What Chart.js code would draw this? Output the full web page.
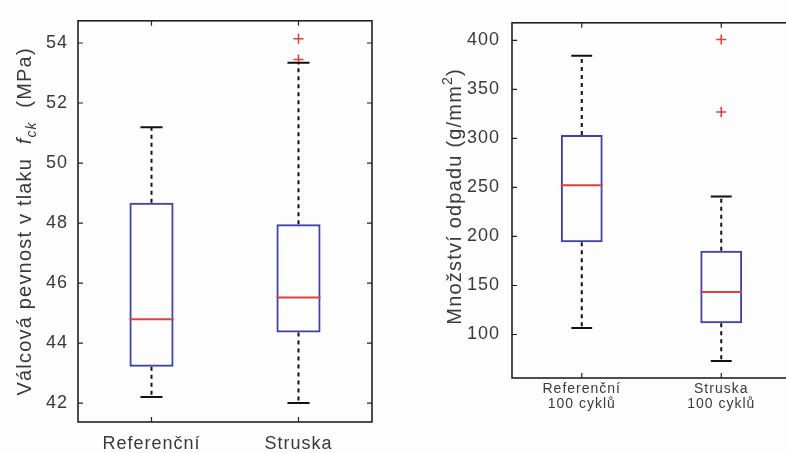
<!DOCTYPE html>
<html>
<head>
<meta charset="utf-8">
<script src="https://cdn.jsdelivr.net/npm/chart.js@4/dist/chart.umd.min.js"></script>
<style>
  html, body { margin: 0; padding: 0; overflow: hidden; background: #fdfdfd; }
  body { width: 786px; height: 453px; position: relative; }
  canvas { position: absolute; top: 0; }
  #leftChart { left: 0; }
  #rightChart { left: 420px; }
</style>
</head>
<body>
<canvas id="leftChart" width="400" height="453"></canvas>
<canvas id="rightChart" width="380" height="453"></canvas>
<script>
// levý graf - válcová pevnost
const leftCats = ["Referenční", "Struska"];
const leftLow = [42.2, 42.0];
const leftQ1 = [43.21, 44.35];
const leftMedian = [44.79, 45.52];
const leftQ3 = [48.68, 47.96];
const leftHigh = [51.19, 53.34];
const leftOutliers = [[], [54.14, 53.45]];
const leftTicks = [42, 44, 46, 48, 50, 52, 54];

// pravý graf - množství odpadu
const rightCats = [["Referenční", "100 cyklů"], ["Struska", "100 cyklů"]];
const rightLow = [106.5, 73];
const rightQ1 = [194, 111.5];
const rightMedian = [252.3, 143.4];
const rightQ3 = [303.6, 185.5];
const rightHigh = [384.5, 240.7];
const rightOutliers = [[], [401, 327]];
const rightTicks = [100, 150, 200, 250, 300, 350, 400];

const BLUE = "#3f42a6";
const RED = "#e0403c";
const TEXT = "#3a3a3a";
const FONT = "'Liberation Sans', Arial, sans-serif";

const spacingPlugin = {
  id: "spacing",
  beforeDraw(chart) {
    chart.ctx.letterSpacing = "1px";
  }
};

// vousy, mediány a rámeček
function boxPlugin(s) {
  return {
    id: "boxParts",
    afterDatasetsDraw(chart) {
      const ctx = chart.ctx;
      const y = chart.scales.y;
      const meta = chart.getDatasetMeta(0);
      ctx.save();
      meta.data.forEach((bar, i) => {
        const x = bar.x;
        const w = bar.width;
        ctx.strokeStyle = "#111";
        ctx.lineWidth = 2;
        ctx.setLineDash([4, 4]);
        ctx.beginPath();
        ctx.moveTo(x, y.getPixelForValue(s.q3[i]));
        ctx.lineTo(x, y.getPixelForValue(s.high[i]));
        ctx.moveTo(x, y.getPixelForValue(s.q1[i]));
        ctx.lineTo(x, y.getPixelForValue(s.low[i]));
        ctx.stroke();
        ctx.setLineDash([]);
        ctx.beginPath();
        [s.high[i], s.low[i]].forEach(v => {
          const py = y.getPixelForValue(v);
          ctx.moveTo(x - w / 4, py);
          ctx.lineTo(x + w / 4, py);
        });
        ctx.stroke();
        ctx.strokeStyle = RED;
        ctx.lineWidth = 2;
        ctx.beginPath();
        const pm = y.getPixelForValue(s.median[i]);
        ctx.moveTo(x - w / 2, pm);
        ctx.lineTo(x + w / 2, pm);
        ctx.stroke();
      });
      ctx.restore();
    },
    afterDraw(chart) {
      const ctx = chart.ctx;
      const a = chart.chartArea;
      ctx.save();
      ctx.strokeStyle = "#222";
      ctx.lineWidth = 1.6;
      ctx.strokeRect(a.left, a.top, a.right - a.left, a.bottom - a.top);
      ctx.lineWidth = 1.2;
      ctx.beginPath();
      chart.scales.y.ticks.forEach(t => {
        const py = chart.scales.y.getPixelForValue(t.value);
        ctx.moveTo(a.left, py);
        ctx.lineTo(a.left + 5, py);
        ctx.moveTo(a.right, py);
        ctx.lineTo(a.right - 5, py);
      });
      chart.scales.x.ticks.forEach((t, i) => {
        const px = chart.scales.x.getPixelForValue(i);
        ctx.moveTo(px, a.top);
        ctx.lineTo(px, a.top + 5);
        ctx.moveTo(px, a.bottom);
        ctx.lineTo(px, a.bottom - 5);
      });
      ctx.stroke();

      // svislý popisek osy
      const t = s.title;
      ctx.letterSpacing = t.spacing;
      ctx.fillStyle = TEXT;
      ctx.textAlign = "left";
      ctx.textBaseline = "alphabetic";
      let total = 0;
      t.parts.forEach(p => {
        ctx.font = p.font;
        total += ctx.measureText(p.text).width;
      });
      ctx.translate(t.x, (a.top + a.bottom) / 2 + t.dy);
      ctx.rotate(-Math.PI / 2);
      let pos = -total / 2;
      t.parts.forEach(p => {
        ctx.font = p.font;
        ctx.fillText(p.text, pos, p.shift || 0);
        pos += ctx.measureText(p.text).width;
      });
      ctx.restore();
    }
  };
}

function outlierPoints(cats, outliers) {
  const pts = [];
  outliers.forEach((list, i) => {
    list.forEach(v => pts.push({ x: cats[i], y: v }));
  });
  return pts;
}

function makeBoxChart(canvasId, s) {
  const labels = s.cats.map(c => Array.isArray(c) ? c.join(" ") : c);
  return new Chart(document.getElementById(canvasId), {
    type: "bar",
    data: {
      labels,
      datasets: [
        {
          data: s.q1.map((v, i) => [v, s.q3[i]]),
          backgroundColor: "rgba(0,0,0,0)",
          borderColor: BLUE,
          borderWidth: 2,
          borderSkipped: false,
          barPercentage: 0.3,
          categoryPercentage: 1
        },
        {
          type: "line",
          data: outlierPoints(labels, s.outliers),
          showLine: false,
          pointStyle: "cross",
          pointRadius: 5,
          borderColor: RED,
          borderWidth: 1.6
        }
      ]
    },
    options: {
      responsive: false,
      animation: false,
      layout: { padding: s.padding },
      plugins: {
        legend: { display: false },
        tooltip: { enabled: false }
      },
      scales: {
        x: {
          grid: { display: false, drawTicks: false },
          border: { display: false },
          ticks: {
            color: TEXT,
            font: { family: FONT, size: s.xFont, lineHeight: 1.1 },
            padding: s.xPad,
            maxRotation: 0,
            callback: (v, i) => s.cats[i]
          },
          afterFit: scale => { scale.height = s.xHeight; }
        },
        y: {
          min: s.min,
          max: s.max,
          grid: { display: false, drawTicks: false },
          border: { display: false },
          ticks: {
            color: TEXT,
            font: { family: FONT, size: 18 },
            padding: s.yPad
          },
          afterBuildTicks: scale => { scale.ticks = s.ticks.map(v => ({ value: v })); },
          afterFit: scale => { scale.width = s.yWidth; }
        }
      }
    },
    plugins: [spacingPlugin, boxPlugin(s)]
  });
}

makeBoxChart("leftChart", {
  cats: leftCats, low: leftLow, q1: leftQ1, median: leftMedian, q3: leftQ3, high: leftHigh,
  outliers: leftOutliers, ticks: leftTicks, min: 41.37, max: 54.74,
  padding: { top: 14, right: 28, left: 0, bottom: 0 },
  xFont: 18, xPad: 12, xHeight: 31, yPad: 10, yWidth: 78,
  title: {
    x: 31, dy: 0, spacing: "1.2px",
    parts: [
      { text: "Válcová pevnost v tlaku  ", font: "20px " + FONT },
      { text: "f", font: "italic 20px " + FONT },
      { text: "ck", font: "italic 14px " + FONT, shift: 5 },
      { text: "  (MPa)", font: "20px " + FONT }
    ]
  }
});

makeBoxChart("rightChart", {
  cats: rightCats, low: rightLow, q1: rightQ1, median: rightMedian, q3: rightQ3, high: rightHigh,
  outliers: rightOutliers, ticks: rightTicks, min: 55.6, max: 418,
  padding: { top: 11, right: 9, left: 0, bottom: 0 },
  xFont: 14, xPad: 3, xHeight: 75, yPad: 12, yWidth: 92,
  title: {
    x: 41, dy: -4, spacing: "1.2px",
    parts: [
      { text: "Množství odpadu (g/mm", font: "20px " + FONT },
      { text: "2", font: "14px " + FONT, shift: -9 },
      { text: ")", font: "20px " + FONT }
    ]
  }
});
</script>
</body>
</html>
